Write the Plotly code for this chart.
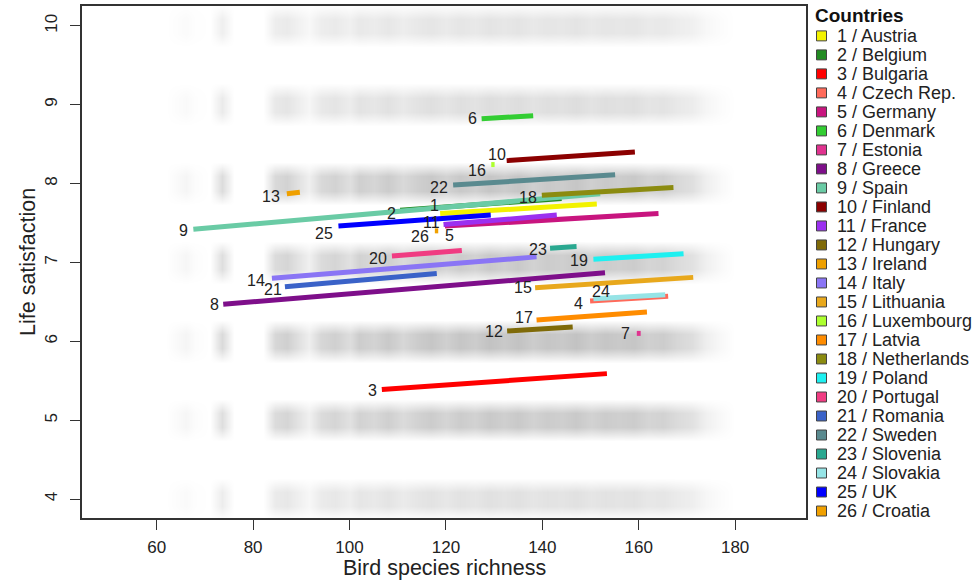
import plotly.graph_objects as go

# ---------------- data ----------------
numbers = list(range(1, 27))
countries = ["Austria", "Belgium", "Bulgaria", "Czech Rep.", "Germany", "Denmark", "Estonia",
             "Greece", "Spain", "Finland", "France", "Hungary", "Ireland", "Italy", "Lithuania",
             "Luxembourg", "Latvia", "Netherlands", "Poland", "Portugal", "Romania", "Sweden",
             "Slovenia", "Slovakia", "UK", "Croatia"]
x_start = [118.8, 110.5, 106.7, 149.9, 119.8, 127.4, 159.6, 73.8, 67.6, 132.6, 119.5, 132.7, 87.0,
           83.9, 138.5, 129.4, 138.8, 139.9, 150.6, 108.8, 86.6, 121.5, 141.6, 150.6, 97.7, 117.7]
x_end = [151.3, 144.0, 153.4, 166.1, 164.1, 138.1, 160.4, 153.0, 152.0, 159.2, 143.0, 146.3, 89.7,
         138.8, 171.3, 130.1, 161.7, 167.2, 169.3, 123.3, 118.1, 155.1, 147.1, 165.5, 129.3, 118.4]
y_start = [7.62, 7.66, 5.39, 6.51, 7.46, 8.82, 6.10, 6.47, 7.42, 8.29, 7.48, 6.13, 7.87,
           6.80, 6.68, 8.24, 6.27, 7.85, 7.04, 7.08, 6.69, 7.98, 7.18, 6.54, 7.46, 7.40]
y_end = [7.74, 7.81, 5.59, 6.57, 7.62, 8.86, 6.10, 6.87, 7.87, 8.40, 7.60, 6.18, 7.89,
         7.07, 6.81, 8.24, 6.37, 7.95, 7.11, 7.15, 6.86, 8.11, 7.20, 6.59, 7.60, 7.40]

# blurred raw-data background (density)
bg_richness = [44, 62, 66, 68, 71, 73.5, 76, 82, 84.5, 87, 89.5, 91.5, 94, 97, 100, 102, 105, 108,
               111, 114, 117, 120, 123, 126, 129, 132, 135, 138, 141, 144, 147, 150, 153, 156,
               159, 162, 165, 168, 171, 174, 177, 180, 195]
bg_profile = [0, 0, 0.15, 0.05, 0, 0.55, 0, 0, 0.6, 0.7, 0.45, 0.25, 0.6, 0.7, 0.5, 0.75, 0.65,
              0.8, 0.6, 0.75, 0.85, 0.7, 0.85, 0.75, 0.9, 0.8, 0.9, 0.75, 0.85, 0.8, 0.9, 0.75,
              0.85, 0.8, 0.85, 0.7, 0.75, 0.6, 0.5, 0.25, 0.1, 0, 0]
bg_levels = [4, 5, 6, 7, 8, 9, 10]
bg_strength = [0.45, 0.8, 0.9, 0.8, 0.85, 0.5, 0.4]

x_ticks = [60, 80, 100, 120, 140, 160, 180]
y_ticks = [4, 5, 6, 7, 8, 9, 10]

# ---------------- styles ----------------
colors = ["#F2F200", "#228B22", "#FF0000", "#FF6A5A", "#C8157F", "#32CD32", "#E0338F",
          "#7E0F8A", "#6ACBA5", "#8B0000", "#9B30F0", "#7F6A08", "#EFA000", "#8A75F5",
          "#E8A81C", "#ADFF2F", "#FF8C00", "#8B8B10", "#1EF0F0", "#F03C82", "#3A62C8",
          "#5A8A8F", "#2AA890", "#96E4E6", "#0000FF", "#F0A000"]
label_style = {1: ("right", 1, 8), 2: ("right", -2, -3), 3: ("right", -3, -1), 4: ("right", -5, -2),
               5: ("center", 5, -9), 6: ("right", -3, 0), 7: ("right", -5, 0), 8: ("right", -2, 0),
               9: ("right", -3, -1), 10: ("right", 1, 6), 11: ("right", -2, 2), 12: ("right", -2, 0),
               13: ("right", -5, -3), 14: ("right", -5, -2), 15: ("right", -1, 0), 16: ("right", -3, -6),
               17: ("right", -2, 2), 18: ("right", -3, -2), 19: ("right", -3, -1), 20: ("right", -3, -2),
               21: ("right", -1, -3), 22: ("right", -3, -2), 23: ("right", -1, -1), 24: ("left", -3, 7),
               25: ("right", -3, -7), 26: ("right", -4, -6)}
FONT = "Liberation Sans, Arial, Helvetica, sans-serif"

W, H = 975, 581
ML, MR, MT, MB = 82, 169, 4, 63
PW, PH = W - ML - MR, H - MT - MB


def px2paper_x(px):
    return (px - ML) / PW


def px2paper_y(py):
    return (H - MB - py) / PH


fig = go.Figure()

# background heatmap
rows_y, z = [], []
for lvl, s in zip(bg_levels, bg_strength):
    for dy, f in [(-0.27, 0.0), (-0.09, 1.0), (0.09, 1.0), (0.27, 0.0)]:
        rows_y.append(lvl + dy)
        z.append([p * s * f for p in bg_profile])
fig.add_trace(go.Heatmap(x=bg_richness, y=rows_y, z=z, zsmooth="best", zmin=0, zmax=1,
                         colorscale=[[0, "rgb(255,255,255)"], [1, "rgb(180,180,180)"]],
                         showscale=False, hoverinfo="skip"))

# country lines
for i, n in enumerate(numbers):
    fig.add_trace(go.Scatter(x=[x_start[i], x_end[i]], y=[y_start[i], y_end[i]], mode="lines",
                             line=dict(color=colors[i], width=5), name=f"{n} / {countries[i]}",
                             showlegend=False))
    anchor, xs, ys = label_style[n]
    fig.add_annotation(x=x_start[i], y=y_start[i], text=str(n), showarrow=False,
                       xanchor=anchor, yanchor="middle", xshift=xs, yshift=ys,
                       font=dict(family=FONT, size=16, color="#222"))

# axis titles
fig.add_annotation(xref="paper", yref="paper", x=0.5, y=px2paper_y(568), text="Bird species richness",
                   showarrow=False, xanchor="center", yanchor="middle",
                   font=dict(family=FONT, size=21.5, color="#222"))
fig.add_annotation(xref="paper", yref="paper", x=px2paper_x(28), y=0.5, text="Life satisfaction",
                   showarrow=False, textangle=-90, xanchor="center", yanchor="middle",
                   font=dict(family=FONT, size=21.5, color="#222"))

# manual legend
fig.add_annotation(xref="paper", yref="paper", x=px2paper_x(813), y=px2paper_y(14), text="<b>Countries</b>",
                   showarrow=False, xanchor="left", yanchor="middle",
                   font=dict(family=FONT, size=19, color="#111"))
for i, n in enumerate(numbers):
    py = 34 + i * 19.08
    fig.add_shape(type="rect", xref="paper", yref="paper",
                  x0=px2paper_x(816.5), x1=px2paper_x(826.5), y0=px2paper_y(py + 5), y1=px2paper_y(py - 5),
                  fillcolor=colors[i], line=dict(color="#444", width=1))
    fig.add_annotation(xref="paper", yref="paper", x=px2paper_x(835), y=px2paper_y(py),
                       text=f"{n} / {countries[i]}", showarrow=False, xanchor="left", yanchor="middle",
                       font=dict(family=FONT, size=18, color="#222"))

axis_common = dict(showgrid=False, zeroline=False, showline=True, mirror=True, linecolor="#333",
                   linewidth=1.5, ticks="outside", ticklen=10, tickwidth=1, tickcolor="#333",
                   tickfont=dict(family=FONT, size=17, color="#222"))
fig.update_xaxes(range=[44.5, 194.7], tickvals=x_ticks, ticklabelstandoff=3, **axis_common)
fig.update_yaxes(range=[3.76, 10.25], tickvals=y_ticks, tickangle=-90, ticklabelstandoff=6,
                 **axis_common)

fig.update_layout(width=W, height=H, margin=dict(l=ML, r=MR, t=MT, b=MB),
                  paper_bgcolor="white", plot_bgcolor="white", showlegend=False)

fig.write_html("out.html", config={"displayModeBar": False},
               post_script="document.body.style.margin='0px';")
